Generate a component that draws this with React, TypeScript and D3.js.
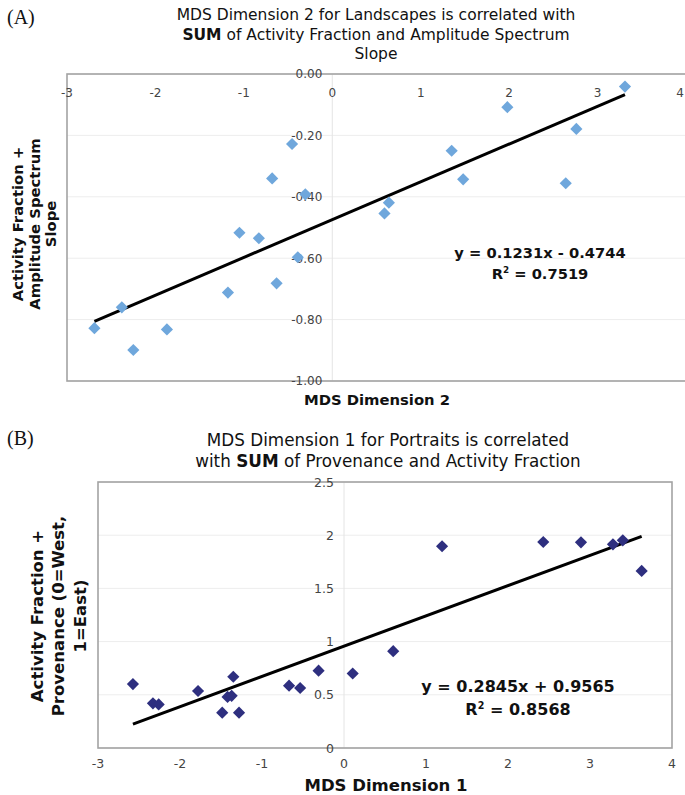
import React, { useRef, useEffect } from "react";
import * as d3 from "d3";

// (A) landscapes: MDS dimension 2 vs activity fraction + amplitude spectrum slope
const landscapeX = [-0.455, -0.68, -0.305, -1.05, -0.83, 3.31, 1.98, 2.76, 1.35, 1.48, 2.64, 0.64, 0.59, -0.39, -0.63, -1.18, -2.38, -2.69, -1.87, -2.25];
const landscapeY = [-0.228, -0.34, -0.392, -0.517, -0.535, -0.041, -0.108, -0.179, -0.25, -0.343, -0.356, -0.419, -0.454, -0.597, -0.682, -0.712, -0.76, -0.828, -0.832, -0.899];
const landscapeFit = [0.1231, -0.4744]; // slope, intercept
const landscapeXTicks = [-3, -2, -1, 0, 1, 2, 3, 4];
const landscapeYTicks = [0, -0.2, -0.4, -0.6, -0.8, -1];
const landscapeYLabels = ["0.00", "-0.20", "-0.40", "-0.60", "-0.80", "-1.00"];

// (B) portraits: MDS dimension 1 vs provenance + activity fraction
const portraitX = [1.196, 2.43, 2.89, 3.28, 3.4, 3.63, -2.574, -2.33, -2.26, -1.78, -1.35, -1.42, -1.37, -1.485, -1.28, -0.67, -0.535, -0.31, 0.106, 0.6];
const portraitY = [1.896, 1.936, 1.933, 1.914, 1.952, 1.664, 0.601, 0.42, 0.41, 0.536, 0.67, 0.48, 0.49, 0.332, 0.332, 0.586, 0.564, 0.727, 0.7, 0.91];
const portraitFit = [0.2845, 0.9565];
const portraitXTicks = [-3, -2, -1, 0, 1, 2, 3, 4];
const portraitYTicks = [0, 0.5, 1, 1.5, 2, 2.5];
const portraitYLabels = ["0", "0.5", "1", "1.5", "2", "2.5"];

const SANS = "DejaVu Sans";

const App = () => {
  const svgRef = useRef(null);

  useEffect(() => {
    const svg = d3.select(svgRef.current);
    svg.selectAll("*").remove();

    const panel = (o) => {
      const g = svg.append("g");
      const x = d3.scaleLinear().domain([-3, 4]).range(o.xRange);
      const y = d3.scaleLinear().domain(o.yDomain).range(o.yRange);
      const [x0, x1] = o.xRange;
      const [yb, yt] = o.yRange;

      // faint gridlines
      g.selectAll(".grid")
        .data(o.yTicks)
        .enter()
        .append("line")
        .attr("x1", x0)
        .attr("x2", x1)
        .attr("y1", (d) => y(d))
        .attr("y2", (d) => y(d))
        .attr("stroke", "#ededed");
      g.append("line")
        .attr("x1", x(0))
        .attr("x2", x(0))
        .attr("y1", yt)
        .attr("y2", yb)
        .attr("stroke", "#e4e4e4");

      // plot border
      g.append("rect")
        .attr("x", x0)
        .attr("y", yt)
        .attr("width", x1 - x0)
        .attr("height", yb - yt)
        .attr("fill", "none")
        .attr("stroke", "#a3a3a3")
        .attr("stroke-width", 1.6);

      // tick labels (kept inside the 685px frame)
      g.selectAll(".xl")
        .data(o.xTicks)
        .enter()
        .append("text")
        .attr("x", (d) => Math.min(x(d), 680))
        .attr("y", o.xLabelY)
        .attr("text-anchor", "middle")
        .attr("font-family", SANS)
        .attr("font-size", o.tickSize)
        .attr("fill", "#444")
        .text((d) => String(d).replace("−", "-"));
      g.selectAll(".yl")
        .data(o.yTicks)
        .enter()
        .append("text")
        .attr("x", x(0) - 10)
        .attr("y", (d) => y(d))
        .attr("dy", "0.36em")
        .attr("text-anchor", "end")
        .attr("font-family", SANS)
        .attr("font-size", o.tickSize)
        .attr("fill", "#444")
        .text((d, i) => o.yLabels[i]);

      // trend line
      const [lo, hi] = d3.extent(o.xs);
      const [m, b] = o.fit;
      g.append("path")
        .attr("d", d3.line().x((d) => x(d)).y((d) => y(m * d + b))([lo, hi]))
        .attr("stroke", "#000")
        .attr("stroke-width", 3)
        .attr("fill", "none");

      // diamonds
      const diamond = d3.symbol(d3.symbolSquare, 74)();
      g.selectAll(".pt")
        .data(o.xs)
        .enter()
        .append("path")
        .attr("d", diamond)
        .attr("transform", (d, i) => `translate(${x(d)},${y(o.ys[i])}) rotate(45)`)
        .attr("fill", o.color);

      // equation
      g.append("text")
        .attr("x", o.eqX)
        .attr("y", o.eqY)
        .attr("text-anchor", "middle")
        .attr("font-family", SANS)
        .attr("font-weight", "bold")
        .attr("font-size", o.eqSize)
        .attr("fill", "#111")
        .text(o.eq[0]);
      const r2 = g
        .append("text")
        .attr("x", o.eqX)
        .attr("y", o.eqY + o.eqGap)
        .attr("text-anchor", "middle")
        .attr("font-family", SANS)
        .attr("font-weight", "bold")
        .attr("font-size", o.eqSize)
        .attr("fill", "#111");
      r2.append("tspan").text("R");
      r2.append("tspan").attr("font-size", o.eqSize * 0.6).attr("dy", -o.eqSize * 0.4).text("2");
      r2.append("tspan").attr("dy", o.eqSize * 0.4).text(" = " + o.eq[1]);

      // title
      o.title.forEach((line, i) => {
        const t = g
          .append("text")
          .attr("x", o.titleX)
          .attr("y", o.titleY + i * o.titleGap)
          .attr("text-anchor", "middle")
          .attr("font-family", SANS)
          .attr("font-size", o.titleSize)
          .attr("fill", "#111");
        line.forEach(([s, bold]) => {
          t.append("tspan").attr("font-weight", bold ? "bold" : "normal").text(s);
        });
      });

      // axis titles
      g.append("text")
        .attr("x", o.xTitleX)
        .attr("y", o.xTitleY)
        .attr("text-anchor", "middle")
        .attr("font-family", SANS)
        .attr("font-weight", "bold")
        .attr("font-size", o.axisSize)
        .attr("fill", "#111")
        .text(o.xTitle);
      o.yTitle.forEach((s, i) => {
        g.append("text")
          .attr("transform", `translate(${o.yTitleX[i]},${o.yTitleY}) rotate(-90)`)
          .attr("text-anchor", "middle")
          .attr("font-family", SANS)
          .attr("font-weight", "bold")
          .attr("font-size", o.axisSize)
          .attr("fill", "#111")
          .text(s);
      });

      // panel letter
      g.append("text")
        .attr("x", 7)
        .attr("y", o.letterY)
        .attr("font-family", "Liberation Serif")
        .attr("font-size", 20)
        .attr("fill", "#111")
        .text(o.letter);
    };

    panel({
      xs: landscapeX,
      ys: landscapeY,
      fit: landscapeFit,
      xRange: [67, 686],
      yDomain: [-1, 0],
      yRange: [381, 74],
      xTicks: landscapeXTicks,
      yTicks: landscapeYTicks,
      yLabels: landscapeYLabels,
      xLabelY: 97,
      tickSize: 12,
      color: "#6fa7dc",
      eq: ["y = 0.1231x - 0.4744", "0.7519"],
      eqX: 540,
      eqY: 258,
      eqGap: 21,
      eqSize: 14.7,
      title: [
        [["MDS Dimension 2 for Landscapes is correlated with", false]],
        [["SUM", true], [" of Activity Fraction and Amplitude Spectrum", false]],
        [["Slope", false]],
      ],
      titleX: 376,
      titleY: 20,
      titleGap: 19.5,
      titleSize: 15.5,
      xTitle: "MDS Dimension 2",
      xTitleX: 377,
      xTitleY: 405,
      axisSize: 14.8,
      yTitle: ["Activity Fraction +", "Amplitude Spectrum", "Slope"],
      yTitleX: [23, 40, 56],
      yTitleY: 224,
      letter: "(A)",
      letterY: 24,
    });

    panel({
      xs: portraitX,
      ys: portraitY,
      fit: portraitFit,
      xRange: [98, 672],
      yDomain: [0, 2.5],
      yRange: [748, 482],
      xTicks: portraitXTicks,
      yTicks: portraitYTicks,
      yLabels: portraitYLabels,
      xLabelY: 768,
      tickSize: 12.5,
      color: "#2e2f7f",
      eq: ["y = 0.2845x + 0.9565", "0.8568"],
      eqX: 518,
      eqY: 692,
      eqGap: 23,
      eqSize: 16,
      title: [
        [["MDS Dimension 1 for Portraits is correlated", false]],
        [["with ", false], ["SUM", true], [" of Provenance and Activity Fraction", false]],
      ],
      titleX: 388,
      titleY: 446,
      titleGap: 21,
      titleSize: 16.8,
      xTitle: "MDS Dimension 1",
      xTitleX: 386,
      xTitleY: 791,
      axisSize: 16.5,
      yTitle: ["Activity Fraction +", "Provenance (0=West,", "1=East)"],
      yTitleX: [43, 64, 86],
      yTitleY: 616,
      letter: "(B)",
      letterY: 445,
    });
  }, []);

  return (
    <svg
      ref={svgRef}
      width={685}
      height={795}
      style={{ position: "absolute", left: 0, top: 0, background: "#fff" }}
    ></svg>
  );
};

export default App;
